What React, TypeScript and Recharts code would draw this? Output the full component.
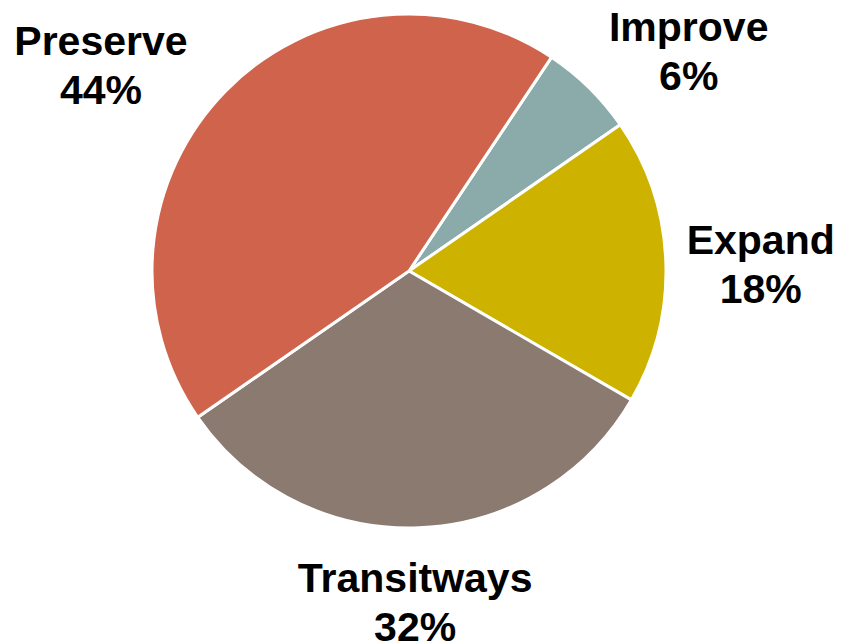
import { Cell, Pie, PieChart } from "recharts";

const categories = ["Improve", "Expand", "Transitways", "Preserve"];
const shares = [6, 18, 32, 44];
const colors = ["#8BABAB", "#CDB300", "#8A7A70", "#D0634B"];

const data = categories.map((name, i) => ({ name, value: shares[i] }));

// small per-label nudges so the text sits where the original put it
const labelNudge: Record<string, { dx: number; dy: number }> = {
  Improve: { dx: 33, dy: 45 },
  Expand: { dx: 0, dy: 21 },
  Transitways: { dx: -8, dy: -7 },
  Preserve: { dx: -57, dy: 55 },
};

const RADIAN = Math.PI / 180;

function renderLabel(props: any) {
  const { cx, cy, midAngle, outerRadius, name, value } = props;
  const r = outerRadius + 95;
  const nudge = labelNudge[name] ?? { dx: 0, dy: 0 };
  const x = cx + r * Math.cos(-midAngle * RADIAN) + nudge.dx;
  const y = cy + r * Math.sin(-midAngle * RADIAN) + nudge.dy;
  return (
    <text
      x={x}
      y={y}
      textAnchor="middle"
      fill="#000"
      fontFamily="'Liberation Sans', Arial, sans-serif"
      fontWeight="bold"
      fontSize={41}
    >
      <tspan x={x} y={y - 24}>{name}</tspan>
      <tspan x={x} y={y + 25}>{`${value}%`}</tspan>
    </text>
  );
}

export default function App() {
  return (
    <div style={{ position: "absolute", left: 0, top: 0, width: 843, height: 642, background: "#fff" }}>
      <PieChart width={843} height={642}>
        <Pie
          data={data}
          dataKey="value"
          nameKey="name"
          cx={404}
          cy={266}
          outerRadius={257}
          startAngle={56.3}
          endAngle={-303.7}
          stroke="#fff"
          strokeWidth={3}
          label={renderLabel}
          labelLine={false}
          isAnimationActive={false}
        >
          {data.map((d, i) => (
            <Cell key={d.name} fill={colors[i]} />
          ))}
        </Pie>
      </PieChart>
    </div>
  );
}
